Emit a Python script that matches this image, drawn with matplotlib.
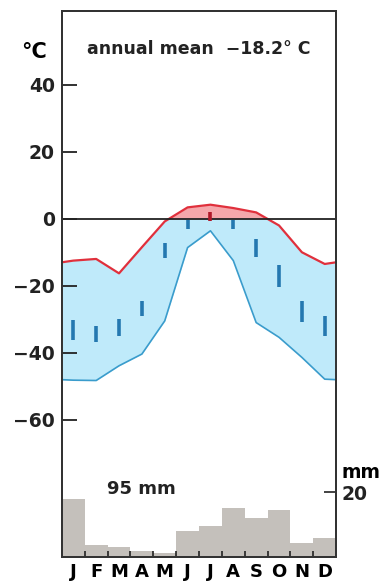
import numpy as np
import matplotlib.pyplot as plt

plt.rcParams['font.family'] = ['DejaVu Sans']

months = ["J", "F", "M", "A", "M", "J", "J", "A", "S", "O", "N", "D"]
# mean daily maximum / minimum (deg C)
t_max = [-12.5, -12.0, -16.3, -8.5, -0.8, 3.4, 4.2, 3.2, 1.9, -2.0, -10.0, -13.5]
t_min = [-48.2, -48.3, -43.9, -40.4, -30.5, -8.6, -3.6, -12.5, -31.0, -35.4, -41.4, -47.9]
# monthly mean marks (top / bottom of the short dash)
mean_hi = [-30.2, -31.9, -29.9, -24.5, -7.1, -0.3, 1.9, -0.4, -6.1, -13.8, -24.5, -29.0]
mean_lo = [-36.2, -36.7, -34.9, -29.0, -11.7, -3.1, -0.6, -3.1, -11.3, -20.3, -30.7, -34.9]
precip = [17.7, 3.6, 3.0, 1.8, 1.2, 7.9, 9.5, 15.0, 12.0, 14.4, 4.3, 5.8]
annual_mean = "annual mean  \u221218.2\u00b0 C"
annual_precip = "95 mm"

fig = plt.figure(figsize=(3.82, 5.86), dpi=100)
ax = fig.add_axes([0.162, 0.0495, 0.718, 0.9315])

# curves continue half a month past the edges (wrap Dec -> Jan)
xc = np.arange(12) + 0.5
x = np.concatenate([[0], xc, [12]])
def wrap(v):
    v = np.asarray(v, float)
    e = (v[0] + v[-1]) / 2
    return np.concatenate([[e], v, [e]])
tmax = wrap(t_max)
tmin = wrap(t_min)

xf = np.linspace(0, 12, 1200)
tmax_f = np.interp(xf, x, tmax)
tmin_f = np.interp(xf, x, tmin)

# precipitation on its own scale
ax2 = ax.twinx()
ax2.bar(xc, precip, width=1.0, color="#c4c0bb", edgecolor="none", zorder=1)
ax2.set_ylim(0, 168)
ax2.set_yticks([20])
ax2.set_yticklabels(["20"], fontsize=13.5, fontweight="bold")
ax2.tick_params(axis="y", direction="in", length=9, width=1.2, pad=4, colors="#222")
ax.set_zorder(ax2.get_zorder() + 1)
ax.patch.set_visible(False)

ax.fill_between(xf, tmin_f, np.minimum(tmax_f, 0), color="#bfeafa", lw=0)
ax.fill_between(xf, 0, tmax_f, where=tmax_f > 0, color="#f5a7ab", lw=0)
ax.plot(x, tmin, color="#3a9ccc", lw=1.2)
ax.plot(x, tmax, color="#e0303c", lw=1.6)
ax.axhline(0, color="#222", lw=1.3)

for i in range(12):
    c = "#b01828" if mean_hi[i] > 0 else "#2478b0"
    ax.plot([xc[i], xc[i]], [mean_lo[i], mean_hi[i]], color=c, lw=2.6,
            solid_capstyle="butt")

ax.set_xlim(0, 12)
ax.set_ylim(-101, 62)
ax.set_yticks([40, 20, 0, -20, -40, -60])
ax.set_yticklabels(["40", "20", "0", "\u221220", "\u221240", "\u221260"],
                   fontsize=13.5, fontweight="bold")
ax.tick_params(axis="y", direction="in", length=11, width=1.3, pad=5, colors="#222")

ax.set_xticks(np.arange(1, 12))
ax.set_xticklabels([])
ax.set_xticks(xc, minor=True)
ax.set_xticklabels(months, minor=True, fontsize=13, fontweight="bold")
ax.tick_params(axis="x", which="major", direction="in", length=4, width=1.2, colors="#222")
ax.tick_params(axis="x", which="minor", length=0, pad=4)

for a in (ax, ax2):
    for s in a.spines.values():
        s.set_color("#333")
        s.set_linewidth(1.4)

fig.text(0.055, 0.911, "\u00b0C", fontsize=15, fontweight="bold", va="center")
ax.text(0.09, 0.93, annual_mean, transform=ax.transAxes, fontsize=12.5,
        fontweight="bold", va="center", color="#222")
ax.text(0.165, 0.125, annual_precip, transform=ax.transAxes, fontsize=13,
        fontweight="bold", va="center", color="#222")
fig.text(0.893, 0.193, "mm", fontsize=13.5, fontweight="bold", va="center")

fig.savefig("out.png", dpi=100)
